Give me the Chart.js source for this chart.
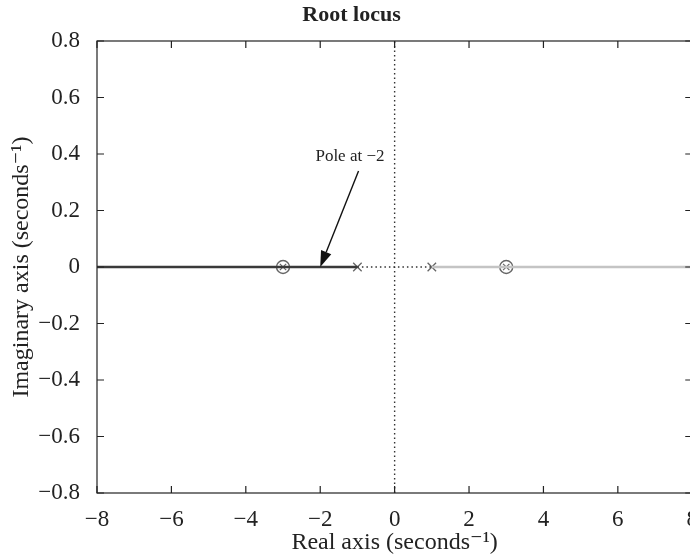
<!DOCTYPE html>
<html>
<head>
<meta charset="utf-8">
<script src="https://cdn.jsdelivr.net/npm/chart.js@4.4.1/dist/chart.umd.min.js"></script>
<style>
  html, body { margin: 0; padding: 0; background: #fff; overflow: hidden; }
  #wrap { width: 703px; height: 556px; }
</style>
</head>
<body>
<div id="wrap"><canvas id="locus"></canvas></div>
<script>
// tick labels
const xTicks = [-8, -6, -4, -2, 0, 2, 4, 6, 8];
const yTicks = [-0.8, -0.6, -0.4, -0.2, 0, 0.2, 0.4, 0.6, 0.8];

// locus branches on the real axis
const leftBranchX = [-8, -1];
const leftBranchY = [0, 0];
const gapX = [-1, 1];
const gapY = [0, 0];
const rightBranchX = [1, 8];
const rightBranchY = [0, 0];

// poles (x) and zeros (circle with x)
const poleX = [-1, 1];
const poleY = [0, 0];
const zeroX = [-3, 3];
const zeroY = [0, 0];

// dotted imaginary axis
const imagAxisX = [0, 0];
const imagAxisY = [-0.8, 0.8];

// annotation
const noteText = 'Pole at −2';
const noteAt = [-1.2, 0.39];
const arrowFrom = [-0.97, 0.34];
const arrowTo = [-2, 0];

const serif = '"Liberation Serif", "DejaVu Serif", serif';

function pts(xs, ys) {
  return xs.map((x, i) => ({ x: x, y: ys[i] }));
}

function fmt(v) {
  let s = String(Math.round(v * 10) / 10);
  if (s === '-0') s = '0';
  return s.replace('-', '−');
}

const frame = {
  id: 'frame',
  afterDraw(chart) {
    const ctx = chart.ctx;
    const a = chart.chartArea;
    const sx = chart.scales.x;
    const sy = chart.scales.y;
    const tick = 7;
    ctx.save();
    ctx.strokeStyle = '#222';
    ctx.lineWidth = 1.2;
    ctx.strokeRect(a.left, a.top, a.right - a.left, a.bottom - a.top);
    ctx.beginPath();
    xTicks.forEach(v => {
      const px = sx.getPixelForValue(v);
      ctx.moveTo(px, a.bottom); ctx.lineTo(px, a.bottom - tick);
      ctx.moveTo(px, a.top); ctx.lineTo(px, a.top + tick);
    });
    yTicks.forEach(v => {
      const py = sy.getPixelForValue(v);
      ctx.moveTo(a.left, py); ctx.lineTo(a.left + tick, py);
      ctx.moveTo(a.right, py); ctx.lineTo(a.right - tick, py);
    });
    ctx.stroke();

    // annotation text and arrow
    ctx.fillStyle = '#222';
    ctx.font = '17px ' + serif;
    ctx.textAlign = 'center';
    ctx.textBaseline = 'middle';
    ctx.fillText(noteText, sx.getPixelForValue(noteAt[0]), sy.getPixelForValue(noteAt[1]));

    const x0 = sx.getPixelForValue(arrowFrom[0]), y0 = sy.getPixelForValue(arrowFrom[1]);
    const x1 = sx.getPixelForValue(arrowTo[0]), y1 = sy.getPixelForValue(arrowTo[1]);
    const ang = Math.atan2(y1 - y0, x1 - x0);
    const headLen = 16, headW = 5.5;
    const bx = x1 - headLen * Math.cos(ang), by = y1 - headLen * Math.sin(ang);
    ctx.strokeStyle = '#111';
    ctx.lineWidth = 1.4;
    ctx.beginPath();
    ctx.moveTo(x0, y0);
    ctx.lineTo(bx, by);
    ctx.stroke();
    ctx.beginPath();
    ctx.moveTo(x1, y1);
    ctx.lineTo(bx + headW * Math.sin(ang), by - headW * Math.cos(ang));
    ctx.lineTo(bx - headW * Math.sin(ang), by + headW * Math.cos(ang));
    ctx.closePath();
    ctx.fillStyle = '#111';
    ctx.fill();
    ctx.restore();
  }
};

new Chart(document.getElementById('locus'), {
  type: 'scatter',
  data: {
    datasets: [
      { data: pts(leftBranchX, leftBranchY), showLine: true, borderColor: '#3a3a3a', borderWidth: 2.4, pointRadius: 0 },
      { data: pts(rightBranchX, rightBranchY), showLine: true, borderColor: '#c4c4c4', borderWidth: 2.4, pointRadius: 0 },
      { data: pts(gapX, gapY), showLine: true, borderColor: '#333', borderWidth: 1.4, borderDash: [1.5, 3], pointRadius: 0 },
      { data: pts(imagAxisX, imagAxisY), showLine: true, borderColor: '#333', borderWidth: 1.4, borderDash: [1.5, 3], pointRadius: 0 },
      { data: pts(poleX, poleY), showLine: false, pointStyle: 'crossRot', pointRadius: 6, borderColor: '#666', borderWidth: 1.3 },
      { data: pts(zeroX, zeroY), showLine: false, pointStyle: 'circle', pointRadius: 6.5, borderColor: '#666', backgroundColor: 'rgba(255,255,255,0)', borderWidth: 1.4 },
      { data: pts(zeroX, zeroY), showLine: false, pointStyle: 'crossRot', pointRadius: 4.5, borderColor: '#666', borderWidth: 1.2 }
    ]
  },
  options: {
    responsive: true,
    maintainAspectRatio: false,
    animation: false,
    events: [],
    layout: { padding: 0 },
    plugins: {
      legend: { display: false },
      tooltip: { enabled: false },
      title: {
        display: true,
        text: 'Root locus',
        color: '#222',
        font: { family: serif, size: 22, weight: 'bold', lineHeight: 1.2 },
        padding: { top: 2, bottom: 12.6 }
      }
    },
    scales: {
      x: {
        type: 'linear',
        min: -8,
        max: 8,
        afterBuildTicks: s => { s.ticks = xTicks.map(v => ({ value: v })); },
        afterFit: s => { s.height = 63; },
        grid: { display: false },
        border: { display: false },
        ticks: {
          color: '#222',
          font: { family: serif, size: 23 },
          padding: 5,
          maxRotation: 0,
          autoSkip: false,
          callback: v => fmt(v)
        },
        title: {
          display: true,
          text: 'Real axis (seconds⁻¹)',
          color: '#222',
          font: { family: serif, size: 24, lineHeight: 1 },
          padding: { top: 0, bottom: 1 }
        }
      },
      y: {
        type: 'linear',
        min: -0.8,
        max: 0.8,
        afterBuildTicks: s => { s.ticks = yTicks.map(v => ({ value: v })); },
        afterFit: s => { s.width = 97; },
        grid: { display: false },
        border: { display: false },
        ticks: {
          color: '#222',
          font: { family: serif, size: 23 },
          padding: 9,
          autoSkip: false,
          callback: v => fmt(v)
        },
        title: {
          display: true,
          text: 'Imaginary axis (seconds⁻¹)',
          color: '#222',
          font: { family: serif, size: 24, lineHeight: 1 },
          padding: { top: 10, bottom: 0 }
        }
      }
    }
  },
  plugins: [frame]
});
</script>
</body>
</html>
